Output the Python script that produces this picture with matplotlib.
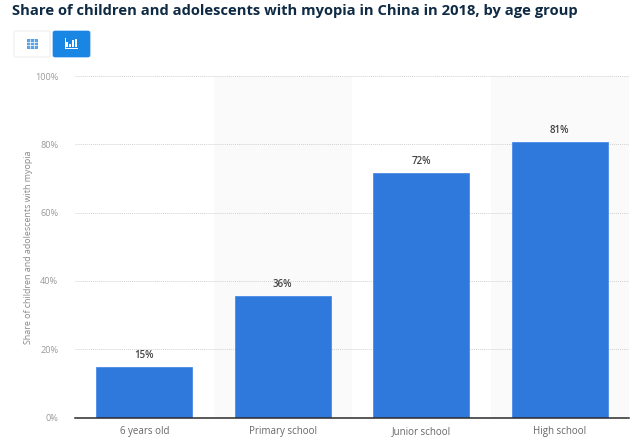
import matplotlib
matplotlib.use('Agg')
import matplotlib.pyplot as plt
from matplotlib.patches import FancyBboxPatch, Rectangle
from matplotlib.lines import Line2D

categories = ['6 years old', 'Primary school', 'Junior school', 'High school']
shares = [14.8, 35.6, 71.6, 80.7]
value_labels = ['15%', '36%', '72%', '81%']
y_ticks = [0, 20, 40, 60, 80, 100]
y_tick_labels = ['0%', '20%', '40%', '60%', '80%', '100%']
title = 'Share of children and adolescents with myopia in China in 2018, by age group'
y_label = 'Share of children and adolescents with myopia'

W, H = 640, 446
plt.rcParams['font.family'] = ['Open Sans', 'DejaVu Sans']

fig = plt.figure(figsize=(W / 100, H / 100), dpi=100)
ax = fig.add_axes([75 / W, 1 - 417.5 / H, 554 / W, 341.5 / H])


def px_rect(x, y, w, h, **kwargs):
    # rectangle in picture pixels, y going down
    fig.add_artist(Rectangle((x / W, 1 - (y + h) / H), w / W, h / H,
                             transform=fig.transFigure, **kwargs))


def px_button(x, y, w, h, **kwargs):
    sx, sy = 1.0, 1.0
    fig.add_artist(FancyBboxPatch((x, H - y - h), w * sx, h * sy,
                                  boxstyle='round,pad=0,rounding_size=2',
                                  transform=None, **kwargs))


# alternate background bands
for i in range(len(categories)):
    if i % 2 == 1:
        ax.axvspan(i - 0.5, i + 0.5, color='#fafafa', lw=0, zorder=0)

ax.bar(range(len(categories)), shares, width=0.69, color='#2f78dc',
       edgecolor='#4a8ce6', linewidth=0.6, zorder=3)
for i, (v, lab) in enumerate(zip(shares, value_labels)):
    ax.annotate(lab, (i, v), xytext=(0, 4), textcoords='offset points',
                ha='center', va='bottom', fontsize=7, color='#444444',
                fontweight='semibold')

ax.set_xlim(-0.5, len(categories) - 0.5)
ax.set_ylim(0, 100)
ax.set_xticks(range(len(categories)))
ax.set_xticklabels(categories, fontsize=7, color='#666666')
ax.set_yticks(y_ticks)
ax.set_yticklabels(y_tick_labels, fontsize=6.6, color='#999999')
ax.tick_params(axis='both', length=0)
ax.tick_params(axis='x', pad=6)
ax.tick_params(axis='y', pad=12)
ax.grid(axis='y', color='#d2d2d2', linestyle=(0, (1, 1)), linewidth=0.7, zorder=1)
ax.set_axisbelow(True)
for side in ['top', 'right', 'left']:
    ax.spines[side].set_visible(False)
ax.spines['bottom'].set_color('#2b2b2b')
ax.spines['bottom'].set_linewidth(1.1)
ax.spines['bottom'].set_zorder(5)
ax.patch.set_alpha(0)

fig.text(29 / W, 1 - 247 / H, y_label, rotation=90, ha='center', va='center',
         fontsize=6.4, color='#888888')
fig.text(12 / W, 1 - 11.5 / H, title, ha='left', va='center', fontsize=10.6,
         fontweight='bold', color='#0f2a44')

# view switch buttons
px_button(14, 31, 36, 26, facecolor='white', edgecolor='#eeeeee', linewidth=0.8)
px_button(53, 31, 37, 26, facecolor='#1a86e4', edgecolor='#1a86e4', linewidth=0.5)

# table icon
px_rect(26.5, 39, 10.5, 9, facecolor='#5aa5ea', edgecolor='#2b8ae2', linewidth=0.5)
for gx in [30, 33.5]:
    fig.add_artist(Line2D([gx / W] * 2, [1 - 39 / H, 1 - 48 / H], color='white', lw=0.5))
for gy in [42, 45]:
    fig.add_artist(Line2D([26.5 / W, 37 / W], [1 - gy / H] * 2, color='white', lw=0.5))

# chart icon
for bx, bh in [(66, 5), (69, 3), (72, 7), (75, 8)]:
    px_rect(bx, 47 - bh, 2, bh, facecolor='white', linewidth=0)
px_rect(64.5, 48, 13.5, 1, facecolor='white', linewidth=0)
px_rect(64.5, 38, 1, 10, facecolor='white', linewidth=0)

fig.savefig('out.png', dpi=100)
